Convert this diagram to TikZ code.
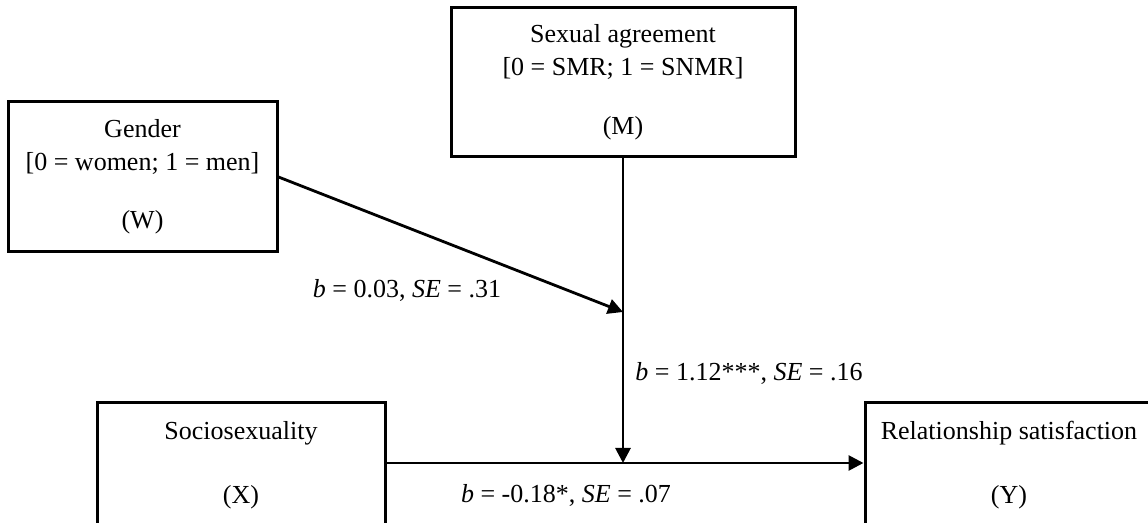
\documentclass[tikz,border=0pt]{standalone}
\usepackage{fontspec}
\setmainfont{Liberation Serif}
\usetikzlibrary{arrows.meta}
\begin{document}
\begin{tikzpicture}[x=0.5pt,y=-0.5pt,
  box/.style={draw,line width=1.5pt,inner sep=0pt,align=center,font=\fontsize{13}{16.5}\selectfont},
  conn/.style={line width=1.4pt,-{Triangle[length=7.5pt,width=7.5pt]}},
  lab/.style={font=\fontsize{13}{16.5}\selectfont,inner sep=0pt}]
\useasboundingbox (0,0) rectangle (1148,523);
\clip (0,0) rectangle (1148,523);
\node[box,minimum width=134.5pt,minimum height=75pt] (W) at (142.5,177)
  {Gender\\{[}0 = women; 1 = men{]}\\[12.5pt](W)};
\node[box,minimum width=172pt,minimum height=74.5pt] (M) at (623,82.5)
  {Sexual agreement\\{[}0 = SMR; 1 = SNMR{]}\\[13pt](M)};
\node[box,minimum width=144pt,minimum height=62pt] (X) at (241,465)
  {Sociosexuality\\[15.5pt](X)};
\node[box,minimum width=144pt,minimum height=62pt] (Y) at (1009,465)
  {Relationship satisfaction\\[15.5pt](Y)};
\coordinate (j) at (623,463);
\coordinate (k) at (623,312);
\draw[conn] (M.south) -- (j);
\draw[conn] (W.east) -- (k);
\draw[conn] (X.east |- j) -- (Y.west |- j);
\node[lab] (l1) at (407,290) {\textit{b} = 0.03, \textit{SE} = .31};
\node[lab,anchor=west] (l2) at (635,373) {\textit{b} = 1.12***, \textit{SE} = .16};
\node[lab] (l3) at (566,495) {\textit{b} = -0.18*, \textit{SE} = .07};
\end{tikzpicture}
\end{document}
